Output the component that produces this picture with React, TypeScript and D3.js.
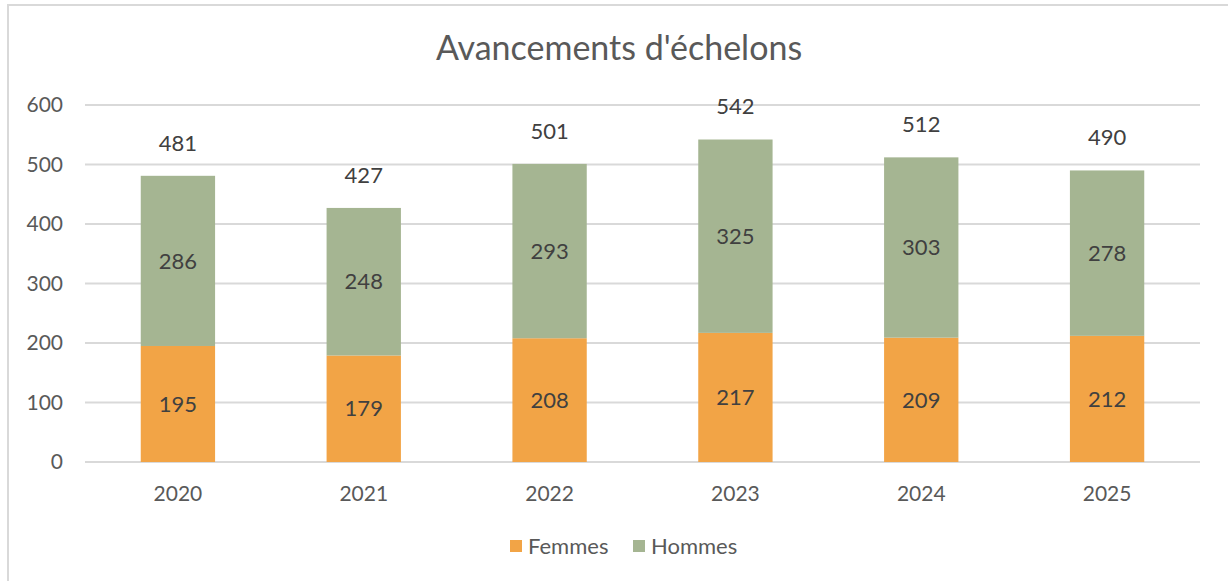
import React, { useEffect, useRef } from 'react';
import * as d3 from 'd3';

const years = ['2020', '2021', '2022', '2023', '2024', '2025'];
const femmes = [195, 179, 208, 217, 209, 212];
const hommes = [286, 248, 293, 325, 303, 278];
const yTicks = [0, 100, 200, 300, 400, 500, 600];

const FONT = "Lato, 'Open Sans', sans-serif";
const ORANGE = '#F2A446';
const GREEN = '#A5B592';

function App() {
  const ref = useRef<SVGSVGElement | null>(null);

  useEffect(() => {
    if (!ref.current) return;
    const svg = d3.select(ref.current);
    svg.selectAll('*').remove();

    const W = 1228;
    const H = 581;
    const left = 85, right = 1200, top = 105, bottom = 462;

    svg.attr('width', W).attr('height', H);

    // outer chart frame (cropped on right and bottom)
    svg.append('rect')
      .attr('x', 8).attr('y', 5)
      .attr('width', W + 20).attr('height', H + 20)
      .attr('fill', '#fff')
      .attr('stroke', '#d9d9d9')
      .attr('stroke-width', 2);

    const x = d3.scaleBand().domain(years).range([left, right]).paddingInner(0.6).paddingOuter(0.3);
    const y = d3.scaleLinear().domain([0, 600]).range([bottom, top]);

    // gridlines
    svg.append('g').selectAll('line')
      .data(yTicks)
      .join('line')
      .attr('x1', left).attr('x2', right)
      .attr('y1', d => y(d)).attr('y2', d => y(d))
      .attr('stroke', '#d9d9d9')
      .attr('stroke-width', 2);

    // y labels
    svg.append('g').selectAll('text')
      .data(yTicks)
      .join('text')
      .attr('x', 63)
      .attr('y', d => y(d))
      .attr('dy', '0.35em')
      .attr('text-anchor', 'end')
      .attr('font-family', FONT)
      .attr('font-size', 21)
      .attr('fill', '#595959')
      .text(d => d);

    // x labels
    svg.append('g').selectAll('text')
      .data(years)
      .join('text')
      .attr('x', d => x(d)! + x.bandwidth() / 2)
      .attr('y', 501)
      .attr('text-anchor', 'middle')
      .attr('font-family', FONT)
      .attr('font-size', 21)
      .attr('fill', '#595959')
      .text(d => d);

    const rows = years.map((yr, i) => ({ year: yr, f: femmes[i], h: hommes[i] }));

    // Femmes bars
    svg.append('g').selectAll('rect')
      .data(rows)
      .join('rect')
      .attr('x', d => x(d.year)!)
      .attr('width', x.bandwidth())
      .attr('y', d => y(d.f))
      .attr('height', d => y(0) - y(d.f))
      .attr('fill', ORANGE);

    // Hommes bars
    svg.append('g').selectAll('rect')
      .data(rows)
      .join('rect')
      .attr('x', d => x(d.year)!)
      .attr('width', x.bandwidth())
      .attr('y', d => y(d.f + d.h))
      .attr('height', d => y(d.f) - y(d.f + d.h))
      .attr('fill', GREEN);

    const label = (g: any) => g
      .attr('text-anchor', 'middle')
      .attr('dy', '0.35em')
      .attr('font-family', FONT)
      .attr('font-size', 22)
      .attr('fill', '#404040');

    svg.append('g').selectAll('text')
      .data(rows)
      .join('text')
      .attr('x', d => x(d.year)! + x.bandwidth() / 2)
      .attr('y', d => y(d.f / 2))
      .call(label)
      .text(d => d.f);

    svg.append('g').selectAll('text')
      .data(rows)
      .join('text')
      .attr('x', d => x(d.year)! + x.bandwidth() / 2)
      .attr('y', d => y(d.f + d.h / 2))
      .call(label)
      .text(d => d.h);

    // totals
    svg.append('g').selectAll('text')
      .data(rows)
      .join('text')
      .attr('x', d => x(d.year)! + x.bandwidth() / 2)
      .attr('y', d => y(d.f + d.h) - 33)
      .call(label)
      .text(d => d.f + d.h);

    // title
    svg.append('text')
      .attr('x', 619)
      .attr('y', 60)
      .attr('text-anchor', 'middle')
      .attr('font-family', FONT)
      .attr('font-size', 34)
      .attr('fill', '#595959')
      .text("Avancements d'échelons");

    // legend
    const legend = [
      { name: 'Femmes', color: ORANGE, x: 510 },
      { name: 'Hommes', color: GREEN, x: 633 },
    ];
    const lg = svg.append('g').selectAll('g')
      .data(legend)
      .join('g')
      .attr('transform', d => `translate(${d.x},540)`);
    lg.append('rect').attr('width', 12).attr('height', 12).attr('fill', d => d.color);
    lg.append('text')
      .attr('x', 18).attr('y', 6).attr('dy', '0.35em')
      .attr('font-family', FONT)
      .attr('font-size', 22)
      .attr('fill', '#595959')
      .text(d => d.name);
  }, []);

  return <svg ref={ref} style={{ position: 'absolute', left: 0, top: 0 }} />;
}

export default App;
